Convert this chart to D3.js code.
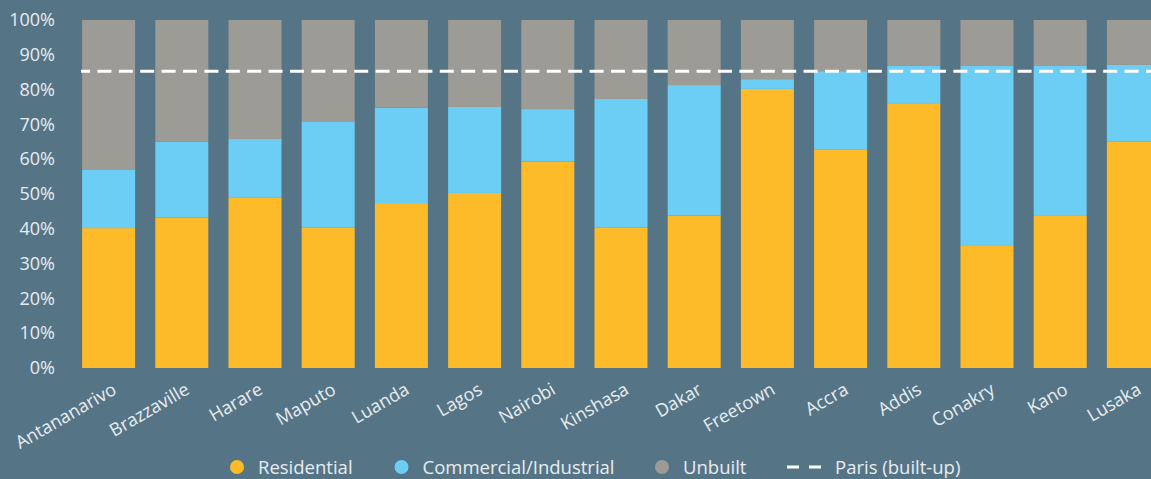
<!DOCTYPE html>
<html>
<head>
<meta charset="utf-8">
<script src="https://cdn.jsdelivr.net/npm/d3@7"></script>
<style>
  html, body { margin: 0; padding: 0; background: #557587; }
  svg { display: block; font-family: "Open Sans", sans-serif; }
</style>
</head>
<body>
<svg id="chart" width="1151" height="479"></svg>
<script>
// values (% of city area)
const cities = ["Antananarivo", "Brazzaville", "Harare", "Maputo", "Luanda", "Lagos", "Nairobi",
  "Kinshasa", "Dakar", "Freetown", "Accra", "Addis", "Conakry", "Kano", "Lusaka"]
const residential = [40.2, 43.2, 48.9, 40.3, 47.4, 50.3, 59.3, 40.3, 43.8, 80.2, 62.7, 76.1, 35.3, 43.7, 65.0]
const commercial  = [16.7, 21.8, 16.9, 30.4, 27.4, 24.7, 15.1, 37.0, 37.5, 2.8, 22.6, 10.7, 51.5, 43.1, 22.1]
const unbuilt     = [43.1, 35.0, 34.2, 29.3, 25.2, 25.0, 25.6, 22.7, 18.7, 17.0, 14.7, 13.2, 13.2, 13.2, 12.9]
const parisBuiltUp = 85.3
const yTicks = [0, 10, 20, 30, 40, 50, 60, 70, 80, 90, 100]

const series = ["Residential", "Commercial/Industrial", "Unbuilt"]
const colors = ["#fdbb2a", "#6ccef5", "#9d9b96"]
const textColor = "#e8ecef"

let svg = d3.select("#chart")

let rows = cities.map((c, i) => ({
  city: c,
  "Residential": residential[i],
  "Commercial/Industrial": commercial[i],
  "Unbuilt": unbuilt[i]
}))

var x = d3.scaleBand()
  .domain(cities)
  .range([72, 72 + 15 * 73.2])
  .paddingInner(0.276)
  .paddingOuter(0.138)

var y = d3.scaleLinear().domain([0, 100]).range([368, 20])

var color = d3.scaleOrdinal().domain(series).range(colors)

var stacked = d3.stack().keys(series)(rows)

svg.append("g")
  .selectAll("g")
  .data(stacked)
  .join("g")
  .attr("fill", d => color(d.key))
  .selectAll("rect")
  .data(d => d)
  .join("rect")
  .attr("x", d => x(d.data.city))
  .attr("width", x.bandwidth())
  .attr("y", d => y(d[1]))
  .attr("height", d => y(d[0]) - y(d[1]))

// y axis labels
var yAxis = svg.append("g")
  .attr("transform", "translate(55,0)")
  .call(d3.axisLeft(y).tickValues(yTicks).tickFormat(d => d + "%").tickSize(0).tickPadding(0))
yAxis.select(".domain").remove()
yAxis.selectAll("text")
  .attr("fill", textColor)
  .style("font-size", "18px")
  .style("font-family", "'Open Sans', sans-serif")

// x axis labels, rotated
svg.append("g")
  .selectAll("text")
  .data(cities)
  .join("text")
  .attr("transform", d => `translate(${x(d) + x.bandwidth() / 2 + 9},393) rotate(-30)`)
  .attr("text-anchor", "end")
  .attr("fill", textColor)
  .style("font-size", "18px")
  .text(d => d)

// Paris reference line
svg.append("line")
  .attr("x1", 81)
  .attr("x2", 1151)
  .attr("y1", y(parisBuiltUp))
  .attr("y2", y(parisBuiltUp))
  .attr("stroke", "#fff")
  .attr("stroke-width", 3)
  .attr("stroke-dasharray", "14,7.4")
  .attr("stroke-dashoffset", 5)

// legend
var legend = svg.append("g").style("font-size", "18.5px")
var legendX = [237, 401.5, 662]
series.forEach((s, i) => {
  legend.append("circle")
    .attr("cx", legendX[i])
    .attr("cy", 467)
    .attr("r", 7)
    .attr("fill", colors[i])
  legend.append("text")
    .attr("x", legendX[i] + 21)
    .attr("y", 473.5)
    .attr("fill", textColor)
    .text(s)
})
legend.append("line")
  .attr("x1", 787).attr("x2", 821)
  .attr("y1", 467).attr("y2", 467)
  .attr("stroke", "#fff")
  .attr("stroke-width", 3)
  .attr("stroke-dasharray", "12,10")
legend.append("text")
  .attr("x", 835)
  .attr("y", 473.5)
  .attr("fill", textColor)
  .text("Paris (built-up)")
</script>
</body>
</html>
